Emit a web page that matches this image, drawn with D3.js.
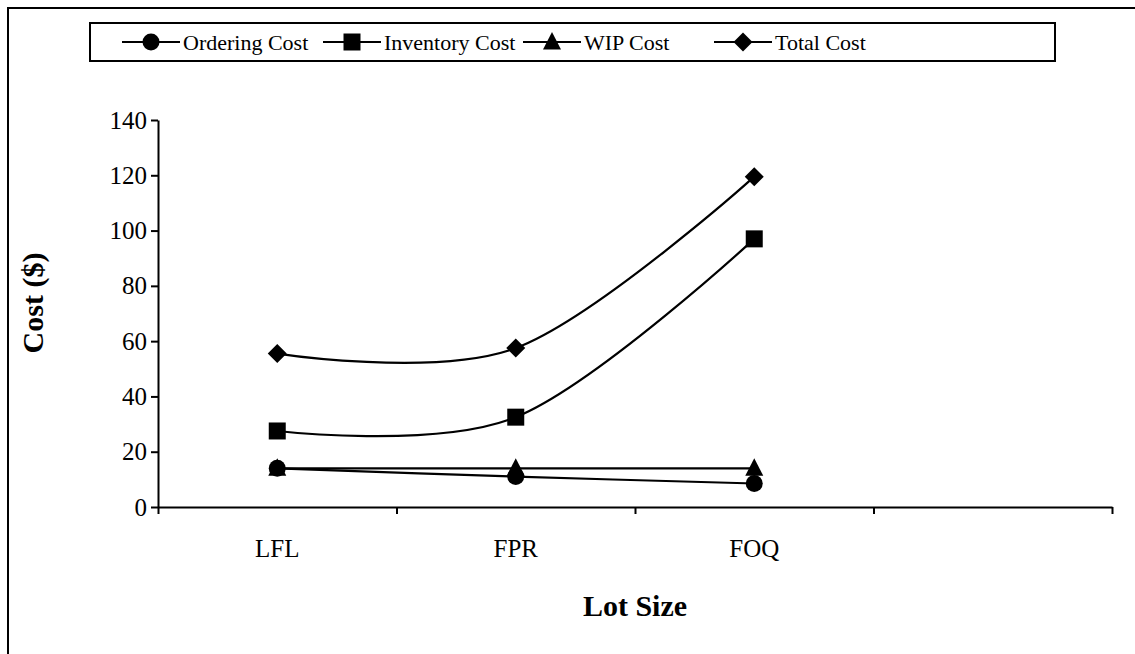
<!DOCTYPE html>
<html>
<head>
<meta charset="utf-8">
<script src="https://cdn.jsdelivr.net/npm/d3@7"></script>
<style>
  body { margin: 0; background: #fff; }
  svg { display: block; }
  text { font-family: "Liberation Serif", "Times New Roman", serif; fill: #000; }
</style>
</head>
<body>
<svg id="chart" width="1135" height="654"></svg>
<script>
// Lot-sizing rules on the x axis (last slot left empty)
const categories = ["LFL", "FPR", "FOQ", ""];

// Cost components ($) per lot-sizing rule
const orderingCost  = [14, 11, 8.5];
const inventoryCost = [27.5, 32.5, 97];
const wipCost       = [14, 14, 14];
const totalCost     = [55.5, 57.5, 119.5];

const seriesNames = ["Ordering Cost", "Inventory Cost", "WIP Cost", "Total Cost"];
const yTicks = [0, 20, 40, 60, 80, 100, 120, 140];

const series = [
  { name: seriesNames[0], values: orderingCost,  symbol: "circle" },
  { name: seriesNames[1], values: inventoryCost, symbol: "square" },
  { name: seriesNames[2], values: wipCost,       symbol: "triangle" },
  { name: seriesNames[3], values: totalCost,     symbol: "diamond" }
];

const svg = d3.select("#chart");

// frame around the chart area
svg.append("path")
  .attr("d", "M8,654V8H1135")
  .attr("fill", "none").attr("stroke", "#000").attr("stroke-width", 2);

const plotLeft = 158, plotRight = 1112, plotTop = 120, plotBottom = 507;

const x = d3.scaleBand().domain(categories).range([plotLeft, plotRight]).paddingInner(0).paddingOuter(0);
const xEdge = d3.scaleLinear().domain([0, categories.length]).range([plotLeft, plotRight]);
const y = d3.scaleLinear().domain([0, 140]).range([plotBottom, plotTop]);

// marker shapes
function markerPath(type) {
  const p = d3.path();
  if (type === "circle") {
    p.arc(0, 0, 8.5, 0, 2 * Math.PI);
  } else if (type === "square") {
    p.rect(-8.5, -8.5, 17, 17);
  } else if (type === "triangle") {
    p.moveTo(0, -10); p.lineTo(9, 7.5); p.lineTo(-9, 7.5); p.closePath();
  } else {
    p.moveTo(0, -9.5); p.lineTo(9.5, 0); p.lineTo(0, 9.5); p.lineTo(-9.5, 0); p.closePath();
  }
  return p.toString();
}

// y axis
const yAxis = svg.append("g")
  .attr("transform", `translate(${plotLeft},0)`)
  .call(d3.axisLeft(y).tickValues(yTicks).tickSize(7).tickSizeOuter(0).tickPadding(4));
yAxis.select(".domain").attr("stroke-width", 2);
yAxis.selectAll(".tick line").attr("stroke-width", 2);
yAxis.selectAll(".tick text")
  .style("font-family", "'Liberation Serif', 'Times New Roman', serif")
  .style("font-size", "25px");

// x axis: tick marks at band edges, labels at band centres
const xAxis = svg.append("g")
  .attr("transform", `translate(0,${plotBottom})`)
  .call(d3.axisBottom(xEdge).tickValues(d3.range(categories.length + 1)).tickFormat("").tickSize(7).tickSizeOuter(0));
xAxis.select(".domain").attr("stroke-width", 2);
xAxis.selectAll(".tick line").attr("stroke-width", 2);

svg.append("g").selectAll("text")
  .data(categories.filter(c => c !== ""))
  .join("text")
  .attr("x", d => x(d) + x.bandwidth() / 2)
  .attr("y", 557)
  .attr("text-anchor", "middle")
  .style("font-size", "25px")
  .text(d => d);

// axis titles
svg.append("text")
  .attr("transform", "translate(43,303) rotate(-90)")
  .attr("text-anchor", "middle")
  .style("font-size", "30px").style("font-weight", "bold")
  .text("Cost ($)");

svg.append("text")
  .attr("x", 635).attr("y", 616)
  .attr("text-anchor", "middle")
  .style("font-size", "30px").style("font-weight", "bold")
  .text("Lot Size");

// smoothed series lines
const line = d3.line()
  .x((d, i) => x(categories[i]) + x.bandwidth() / 2)
  .y(d => y(d))
  .curve(d3.curveCardinal.tension(0));

const plot = svg.append("g");
series.forEach(s => {
  plot.append("path")
    .attr("d", line(s.values))
    .attr("fill", "none").attr("stroke", "#000").attr("stroke-width", 2.2);
});
series.forEach(s => {
  plot.append("g").selectAll("path")
    .data(s.values)
    .join("path")
    .attr("transform", (d, i) => `translate(${x(categories[i]) + x.bandwidth() / 2},${y(d)})`)
    .attr("d", markerPath(s.symbol))
    .attr("fill", "#000");
});

// legend
const legend = svg.append("g");
legend.append("rect")
  .attr("x", 90).attr("y", 23).attr("width", 965).attr("height", 38)
  .attr("fill", "#fff").attr("stroke", "#000").attr("stroke-width", 2);
const legendX = [122, 323, 523, 714];
series.forEach((s, i) => {
  const g = legend.append("g").attr("transform", `translate(${legendX[i]},42)`);
  g.append("line").attr("x1", 0).attr("x2", 58).attr("y1", 0).attr("y2", 0)
    .attr("stroke", "#000").attr("stroke-width", 2.2);
  g.append("path").attr("transform", "translate(29,0)").attr("d", markerPath(s.symbol)).attr("fill", "#000");
  g.append("text").attr("x", 61).attr("y", 7.5).style("font-size", "22px").text(s.name);
});
</script>
</body>
</html>
